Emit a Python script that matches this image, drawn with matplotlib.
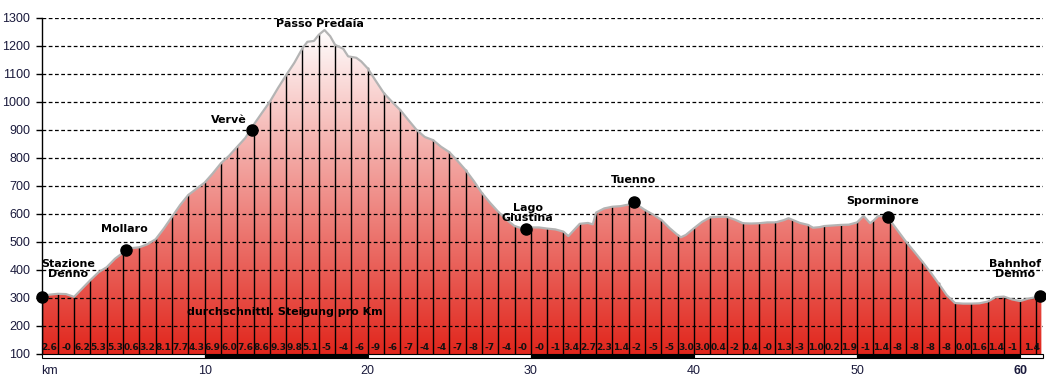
import numpy as np
import matplotlib
matplotlib.use("Agg")
import matplotlib.pyplot as plt
from matplotlib.patches import Polygon, Rectangle

# Hoehenprofil (km, m)
km = [0, 0.5, 1, 1.5, 2, 2.5, 3, 3.5, 4, 4.5, 5, 5.5, 6, 6.5, 7, 7.5, 8, 8.5, 9, 9.5,
      10, 10.5, 11, 11.5, 12, 12.5, 13, 13.5, 14, 14.5, 15, 15.5, 16, 16.3, 16.7, 17,
      17.35, 17.7, 18, 18.5, 18.8, 19.3, 19.6, 20, 20.5, 21, 21.5, 22, 22.5, 23, 23.5,
      24, 24.5, 25, 25.5, 26, 26.5, 27, 27.5, 28, 28.5, 29, 29.5, 30, 30.5, 31, 31.5,
      32, 32.3, 32.6, 33, 33.5, 33.8, 34, 34.5, 35, 35.5, 36, 36.3, 36.6, 37, 37.5, 38,
      38.5, 39, 39.2, 39.5, 40, 40.5, 41, 41.5, 42, 42.5, 43, 43.5, 44, 44.5, 45, 45.5,
      45.8, 46, 46.5, 47, 47.3, 47.7, 48, 48.5, 49, 49.5, 50, 50.4, 50.8, 51, 51.3, 51.9,
      52, 52.5, 53, 53.5, 54, 54.5, 55, 55.5, 56, 56.5, 57, 57.5, 58, 58.5, 59, 59.5, 60,
      60.5, 61, 61.3]
hoehe = [305, 312, 315, 314, 304, 334, 364, 392, 410, 440, 462, 478, 481, 492, 510, 548,
         590, 632, 668, 690, 712, 745, 781, 808, 840, 872, 918, 960, 1001, 1050, 1096, 1140,
         1192, 1215, 1218, 1240, 1257, 1235, 1204, 1190, 1163, 1158, 1145, 1120, 1075, 1031,
         1000, 971, 935, 900, 875, 864, 840, 821, 790, 757, 718, 675, 640, 608, 580, 557,
         548, 552, 552, 548, 545, 537, 521, 540, 565, 568, 563, 605, 620, 626, 628, 634,
         642, 630, 614, 598, 579, 550, 525, 517, 525, 549, 572, 588, 590, 590, 580, 567,
         566, 567, 570, 570, 578, 585, 580, 568, 561, 551, 553, 557, 559, 561, 562, 570,
         593, 567, 576, 593, 591, 579, 540, 501, 466, 430, 392, 352, 310, 282, 280, 280,
         281, 287, 303, 305, 295, 289, 298, 303, 307]

# Orte
orte = ["Stazione\nDenno", "Mollaro", "Vervè", "Passo Predaia", "Lago\nGiustina",
        "Tuenno", "Sporminore", "Bahnhof\nDenno"]
orte_km = [0, 5.2, 12.9, None, 29.7, 36.3, 51.9, 61.2]
orte_hoehe = [305, 473, 900, None, 545, 642, 591, 307]
text_km = [1.63, 5.06, 11.5, 17.09, 29.8, 36.3, 51.56, 59.7]
text_hoehe = [404, 546, 936, 1279, 604, 721, 646, 404]

# durchschnittliche Steigung pro km
steigung = ["2.6", "-0", "6.2", "5.3", "5.3", "0.6", "3.2", "8.1", "7.7", "4.3",
            "6.9", "6.0", "7.6", "8.6", "9.3", "9.8", "5.1", "-5", "-4", "-6",
            "-9", "-6", "-7", "-4", "-4", "-7", "-8", "-7", "-4", "-0",
            "-0", "-1", "3.4", "2.7", "2.3", "1.4", "-2", "-5", "-5", "3.0",
            "3.0", "0.4", "-2", "0.4", "-0", "1.3", "-3", "1.0", "0.2", "1.9",
            "-1", "1.4", "-8", "-8", "-8", "-8", "0.0", "1.6", "1.4", "-1", "1.4"]

xmax = 61.4
ymin, ymax = 100, 1300
navy = "#1a1a3c"

fig = plt.figure(figsize=(10.46, 3.77), dpi=100)
ax = fig.add_axes([41.5 / 1046, 23 / 377, (1043 - 41.5) / 1046, 336 / 377])

# Farbverlauf rot -> weiss, auf das Profil beschnitten
t = np.linspace(0, 1, 256)[:, None]
rot = np.array([225, 38, 28]) / 255
grad = rot * (1 - t) + np.array([1, 1, 1]) * t
grad = np.repeat(grad[:, None, :], 2, axis=1)
img = ax.imshow(grad, extent=[0, km[-1], ymin, 1265], origin="lower",
                aspect="auto", zorder=1, interpolation="bilinear")
poly = Polygon(np.column_stack([[km[0]] + km + [km[-1]], [ymin] + hoehe + [ymin]]),
               closed=True, facecolor="none", edgecolor="none")
ax.add_patch(poly)
img.set_clip_path(poly)

# Gitter
for y in range(200, 1400, 100):
    ax.axhline(y, color="black", lw=0.9, ls=(0, (3, 2)), zorder=2)

# senkrechte Linien pro km
for k in range(0, int(km[-1]) + 1):
    ax.plot([k, k], [ymin, np.interp(k, km, hoehe)], color="black", lw=1, zorder=3)

ax.plot(km, hoehe, color="#b4b4b4", lw=1.6, zorder=4, solid_joinstyle="round")

# Orte
for name, xk, yh, tx, ty in zip(orte, orte_km, orte_hoehe, text_km, text_hoehe):
    if xk is not None:
        ax.plot(xk, yh, "o", color="black", ms=8, zorder=6, clip_on=False)
    ax.text(tx, ty, name, ha="center", va="center", fontsize=8, fontweight="bold",
            linespacing=1.0, zorder=7)

ax.text(14.9, 250, "durchschnittl. Steigung pro Km", ha="center", va="center",
        fontsize=8, fontweight="bold", zorder=7)

for i, s in enumerate(steigung):
    xc = i + 0.5 if i < 60 else 60.7
    ax.text(xc, 124, s, ha="center", va="center", fontsize=6.5, fontweight="bold",
            family=["Liberation Sans Narrow", "DejaVu Sans"], color="#111111", zorder=7)

# Balken unter der Achse
trans = ax.get_xaxis_transform()
grenzen = [0, 10, 20, 30, 40, 50, 60, xmax]
for i in range(len(grenzen) - 1):
    fc = "white" if i % 2 == 0 else "black"
    ax.add_patch(Rectangle((grenzen[i], -0.012), grenzen[i + 1] - grenzen[i], 0.012,
                           transform=trans, facecolor=fc, edgecolor="black", lw=0.8,
                           clip_on=False, zorder=5))

ax.set_xlim(0, xmax)
ax.set_ylim(ymin, ymax)
ax.set_yticks(range(100, 1400, 100))
ax.set_xticks([0, 10, 20, 30, 40, 50, 60])
ax.set_xticklabels(["km", "10", "20", "30", "40", "50", "60"])
ax.tick_params(axis="y", length=4, width=1, pad=4, labelsize=9, labelcolor=navy)
ax.tick_params(axis="x", length=0, pad=8, labelsize=9, labelcolor=navy)
for lab in ax.get_yticklabels() + ax.get_xticklabels():
    lab.set_family("Liberation Sans")
ax.get_xticklabels()[0].set_ha("left")
ax.get_xticklabels()[-1].set_fontweight("bold")

for s in ["top", "right", "bottom"]:
    ax.spines[s].set_visible(False)
ax.spines["left"].set_linewidth(1)

fig.savefig("out.png", dpi=100)
